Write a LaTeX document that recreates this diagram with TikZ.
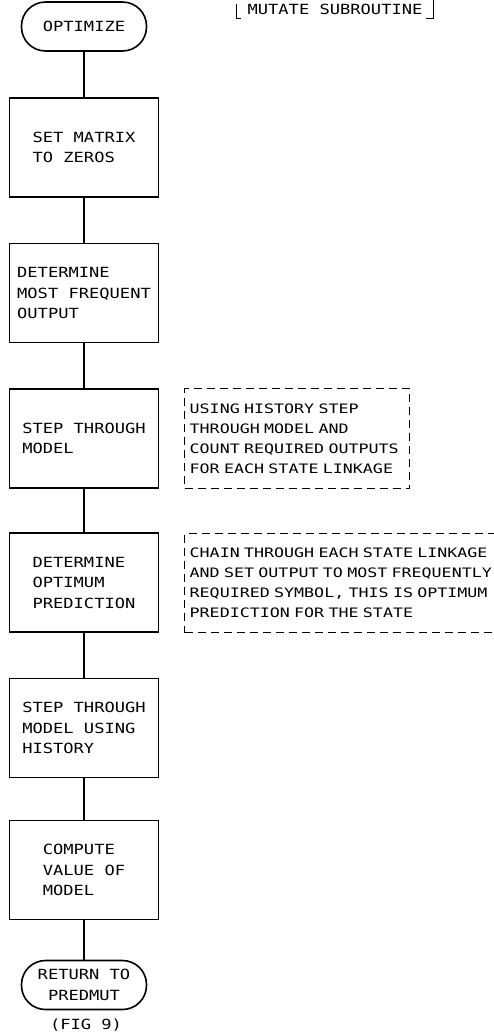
\documentclass[tikz,border=0pt]{standalone}
\usepackage{fontspec}
\newfontfamily\leroyfont{DejaVu Sans Mono}[FakeStretch=1.22]
\newfontfamily\leroynote{DejaVu Sans Mono}[FakeStretch=1.28]
\newcommand{\boxfont}{\leroyfont\fontsize{14}{20.5}\selectfont}
\newcommand{\notefont}{\leroynote\fontsize{13}{20}\selectfont}
\tikzset{
  flowbox/.style={rectangle, draw, line width=1.7pt, minimum width=149pt,
                  minimum height=99pt, inner sep=0pt, align=left, font=\boxfont},
  terminal/.style={rectangle, draw, rounded corners=24pt, line width=1.6pt,
                   minimum width=125pt, minimum height=49pt, inner sep=0pt,
                   align=center, font=\boxfont},
  notebox/.style={rectangle, draw, dash pattern=on 8pt off 5pt, line width=1.4pt,
                  anchor=north west, inner xsep=5pt, inner ysep=0pt,
                  text width=#1, minimum height=100pt, align=left, font=\notefont},
  flowline/.style={line width=1.7pt},
  bracket/.style={line width=1.2pt},
}
\begin{document}
\begin{tikzpicture}[x=1pt, y=-1pt]
  \fill[white] (0,0) rectangle (494,1035);
  \clip (0,0) rectangle (494,1035);
  % Title
  \node[font=\boxfont, minimum width=196pt, minimum height=18pt, inner sep=0pt]
    (title) at (335,9) {MUTATE SUBROUTINE};
  \draw[bracket] ([xshift=4pt]title.south west) -- (title.south west) -- ([yshift=-4pt]title.north west);
  \draw[bracket] ([xshift=-7pt]title.south east) -- (title.south east) -- (title.north east);
  % Main chain
  \node[terminal] (optimize) at (84,26.5) {OPTIMIZE};
  \node[flowbox] (zeros) at (84,147.5) {SET MATRIX\\TO ZEROS};
  \node[flowbox] (frequent) at (84,293) {DETERMINE\\MOST FREQUENT\\OUTPUT};
  \node[flowbox] (stepmodel) at (84,438.5) {STEP THROUGH\\MODEL};
  \node[flowbox] (optimum) at (84,582.5) {DETERMINE\\OPTIMUM\\PREDICTION};
  \node[flowbox] (stephist) at (84,728) {STEP THROUGH\\MODEL USING\\HISTORY};
  \node[flowbox] (value) at (84,870) {COMPUTE\\VALUE OF\\MODEL};
  \node[terminal] (return) at (84,985) {RETURN TO\\PREDMUT};
  \node[font=\boxfont, anchor=north] (fig) at (86,1015) {(FIG 9)};
  % Notes
  \node[notebox=215pt] (notestep) at (184,388)
    {USING HISTORY STEP\\THROUGH MODEL AND\\COUNT REQUIRED OUTPUTS\\FOR EACH STATE LINKAGE};
  \node[notebox=330pt, minimum height=99pt] (notechain) at (184,533)
    {CHAIN THROUGH EACH STATE LINKAGE\\AND SET OUTPUT TO MOST FREQUENTLY\\REQUIRED SYMBOL, THIS IS OPTIMUM\\PREDICTION FOR THE STATE};
  % Connectors
  \foreach \a/\b in {optimize/zeros, zeros/frequent, frequent/stepmodel,
                     stepmodel/optimum, optimum/stephist, stephist/value, value/return}
    \draw[flowline] (\a) -- (\b);
\end{tikzpicture}
\end{document}
